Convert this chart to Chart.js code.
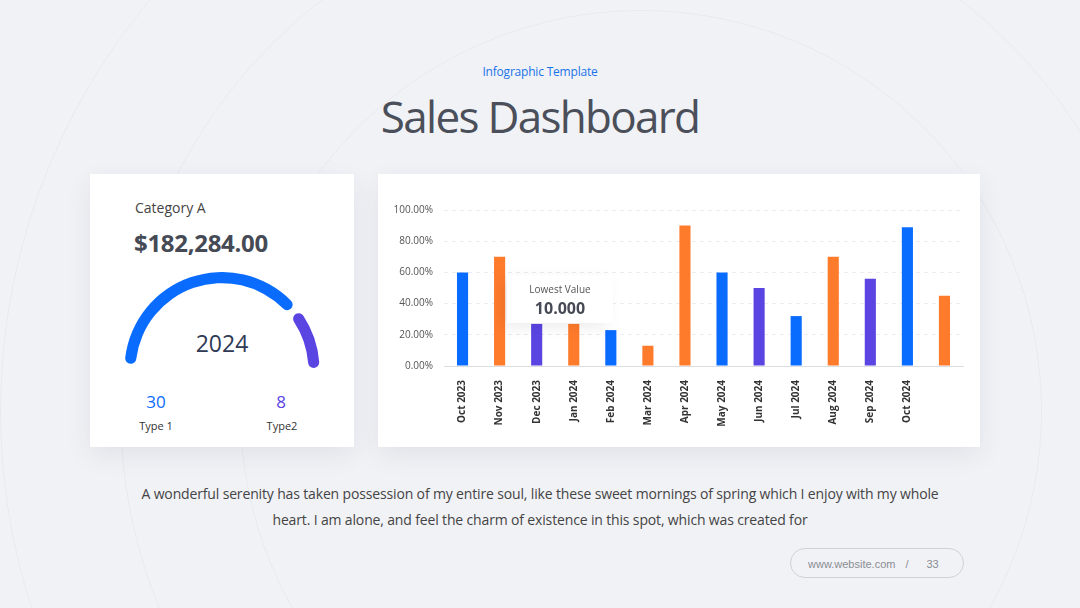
<!DOCTYPE html>
<html>
<head>
<meta charset="utf-8">
<script src="https://cdn.jsdelivr.net/npm/chart.js@4.4.1/dist/chart.umd.min.js"></script>
<style>
  html, body { margin: 0; padding: 0; }
  body {
    width: 1080px; height: 608px; position: relative; overflow: hidden;
    background: #f1f2f6; font-family: "Open Sans", "Noto Sans", sans-serif; color: #4a4f5a;
  }
  .ring { position: absolute; border-radius: 50%; border: 1px solid rgba(0,0,0,0.035); }
  .abs { position: absolute; }
  .card { position: absolute; background: #fff; box-shadow: 0 8px 24px rgba(40,50,80,0.08); }
  #subtitle { left: 0; width: 1080px; top: 63px; text-align: center; font-size: 12px; color: #1a73e8; letter-spacing: -0.2px; }
  #title { left: 0; width: 1080px; top: 86px; text-align: center; font-size: 44px; color: #4a4f5a; letter-spacing: -1.7px; }
  #para { left: 130px; width: 820px; top: 481px; text-align: center; font-size: 14px; line-height: 26px; color: #444; letter-spacing: -0.15px; }
  #pill { left: 790px; top: 548px; width: 174px; height: 30px; border: 1px solid #cfd1d6; border-radius: 16px;
    font-family: "Liberation Sans", Arial, sans-serif; font-size: 11px; color: #8a8d93; line-height: 30px; box-sizing: border-box; }
  #tip { left: 507px; top: 275px; width: 106px; height: 48px; background: #fff; box-shadow: -6px 4px 16px rgba(0,0,0,0.08);
    text-align: center; }
</style>
</head>
<body>
<div class="ring" style="left:240px;top:10px;width:800px;height:800px;"></div>
<div class="ring" style="left:120px;top:-110px;width:1040px;height:1040px;"></div>
<div class="ring" style="left:0px;top:-230px;width:1280px;height:1280px;"></div>

<div id="subtitle" class="abs">Infographic Template</div>
<div id="title" class="abs">Sales Dashboard</div>

<div class="card" style="left:90px;top:174px;width:264px;height:273px;"></div>
<div class="card" style="left:378px;top:174px;width:602px;height:273px;"></div>

<div class="abs" style="left:135px;top:198px;font-size:14px;color:#444;">Category A</div>
<div class="abs" style="left:134px;top:226px;font-size:24px;font-weight:bold;color:#454a55;letter-spacing:-0.3px;">$182,284.00</div>
<div class="abs" style="left:172px;top:327px;width:100px;text-align:center;font-size:23px;color:#2f3a55;">2024</div>
<div class="abs" style="left:131px;top:390px;width:50px;text-align:center;font-size:17px;color:#0a6cff;">30</div>
<div class="abs" style="left:131px;top:418px;width:50px;text-align:center;font-size:11px;color:#333;">Type 1</div>
<div class="abs" style="left:256px;top:390px;width:50px;text-align:center;font-size:17px;color:#5a45e3;">8</div>
<div class="abs" style="left:257px;top:418px;width:50px;text-align:center;font-size:11px;color:#333;">Type2</div>

<canvas id="gauge" class="abs" style="left:124px;top:272px;"></canvas>
<canvas id="bars" class="abs" style="left:378px;top:174px;"></canvas>

<div id="tip" class="abs">
  <div style="font-size:10px;color:#555;margin-top:7px;">Lowest Value</div>
  <div style="font-size:16px;font-weight:bold;color:#454a55;margin-top:1px;">10.000</div>
</div>

<div id="para" class="abs">A wonderful serenity has taken possession of my entire soul, like these sweet mornings of spring which I enjoy with my whole heart. I am alone, and feel the charm of existence in this spot, which was created for</div>
<div id="pill" class="abs"><span style="margin-left:17px;">www.website.com</span><span style="margin-left:10px;">/</span><span style="margin-left:18px;">33</span></div>

<script>
// bar chart data
const months = ["Oct 2023", "Nov 2023", "Dec 2023", "Jan 2024", "Feb 2024", "Mar 2024", "Apr 2024",
  "May 2024", "Jun 2024", "Jul 2024", "Aug 2024", "Sep 2024", "Oct 2024", ""];
const sales = [60, 70, 27, 27, 23, 13, 90, 60, 50, 32, 70, 56, 89, 45];
const barColors = ["#0a6cff", "#ff7b2c", "#5a45e3", "#ff7b2c", "#0a6cff", "#ff7b2c", "#ff7b2c",
  "#0a6cff", "#5a45e3", "#0a6cff", "#ff7b2c", "#5a45e3", "#0a6cff", "#ff7b2c"];
const yTicks = [0, 20, 40, 60, 80, 100];

// gauge data
const gaugeLabels = ["Type 1", "Type2"];
const gaugeValues = [30, 8];
const gaugeColors = ["#0a6cff", "#5a45e3"];

Chart.defaults.font.family = '"Open Sans", "Noto Sans", sans-serif';
Chart.defaults.animation = false;

// half doughnut gauge, centre ends up around (222, 370)
const gaugeCanvas = document.getElementById("gauge");
gaugeCanvas.width = 196; gaugeCanvas.height = 102;
new Chart(gaugeCanvas, {
  type: "doughnut",
  data: {
    labels: gaugeLabels,
    datasets: [{
      data: gaugeValues,
      backgroundColor: gaugeColors,
      borderWidth: 0,
      borderRadius: 6,
      spacing: 9
    }]
  },
  options: {
    responsive: false,
    rotation: -90,
    circumference: 180,
    cutout: "88%",
    plugins: { legend: { display: false }, tooltip: { enabled: false } }
  }
});

const barCanvas = document.getElementById("bars");
barCanvas.width = 602; barCanvas.height = 273;
new Chart(barCanvas, {
  type: "bar",
  data: {
    labels: months,
    datasets: [{
      data: sales,
      backgroundColor: barColors,
      categoryPercentage: 1,
      barPercentage: 0.3
    }]
  },
  options: {
    responsive: false,
    layout: { padding: { top: 36, right: 17, left: 0, bottom: 0 } },
    plugins: { legend: { display: false }, tooltip: { enabled: false } },
    scales: {
      x: {
        grid: { display: false },
        border: { color: "#dcdde0" },
        ticks: {
          color: "#333",
          font: { size: 10, weight: "bold" },
          maxRotation: 90,
          minRotation: 90,
          padding: 6
        },
        afterFit: s => { s.height = 81; }
      },
      y: {
        min: 0,
        max: 100,
        afterBuildTicks: s => { s.ticks = yTicks.map(v => ({ value: v })); },
        grid: { color: "#ececee", drawTicks: false },
        border: { display: false, dash: [4, 4] },
        ticks: {
          color: "#555",
          font: { size: 10 },
          padding: 11,
          callback: v => v.toFixed(2) + "%"
        },
        afterFit: s => { s.width = 66; }
      }
    }
  }
});
</script>
</body>
</html>
